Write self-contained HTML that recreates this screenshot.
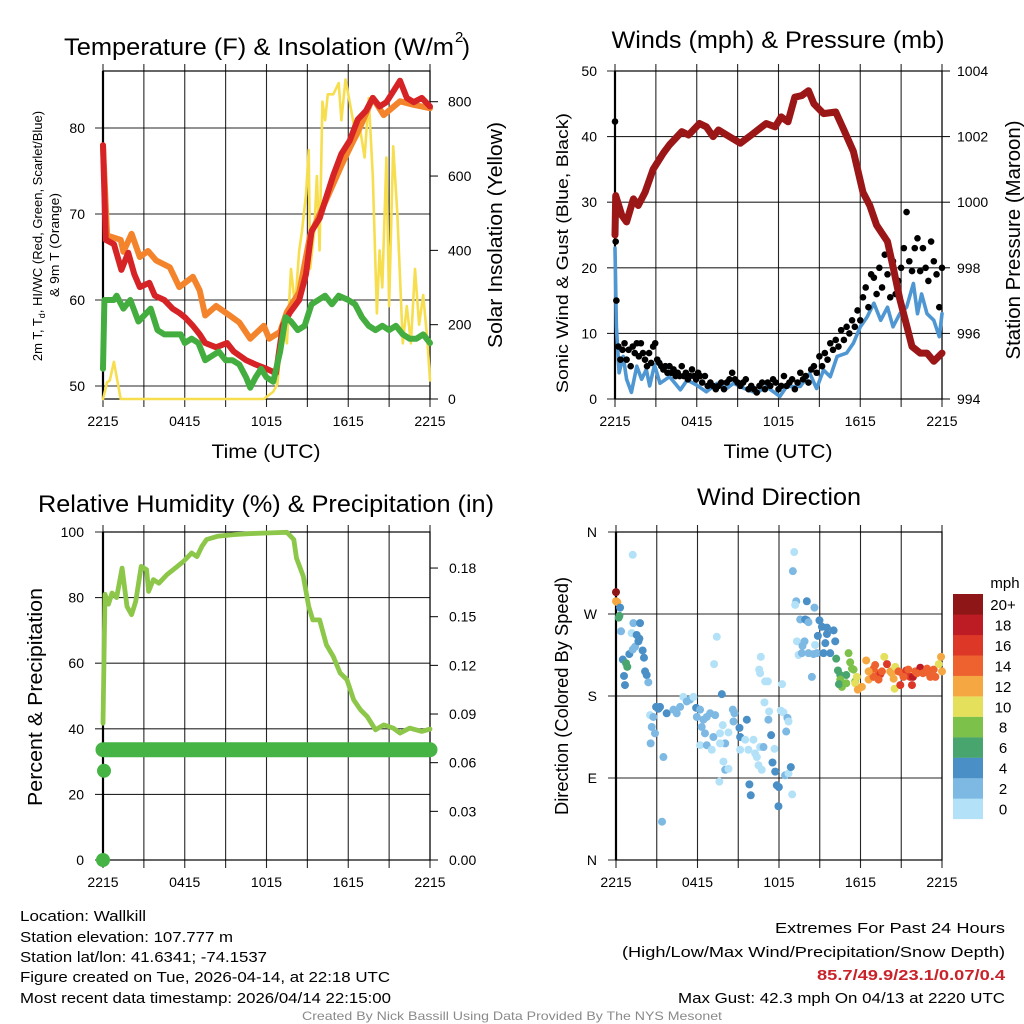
<!DOCTYPE html>
<html><head><meta charset="utf-8"><style>
html,body{margin:0;padding:0;background:#fff}
svg{display:block;font-family:"Liberation Sans",sans-serif}
</style></head><body>
<svg id="chart" width="1024" height="1024" viewBox="0 0 1024 1024"></svg>
<script>
// ===== Temperature panel data (hours since 2215 UTC) =====
const redTimes=[0,0.2,0.8,1.35,1.85,2.3,2.7,3.4,3.8,4.5,5.1,5.6,6.0,6.6,7.1,7.5,8.3,9.1,9.6,10.5,11.2,12,12.7,13.2,13.7,14.4,14.9,15.3,15.9,16.4,16.9,17.5,18.1,18.7,19.3,19.8,20.3,20.8,21.4,21.8,22.3,22.8,23.4,24];
const redValues=[78,67,66.5,63.5,65.5,63,61.5,62,60.5,60,59,58.5,58,57,56,55,54.5,55,54,53,52.5,52,51.5,57,58.5,60,63,68,69.5,72,74.5,77,78.5,81,82,83.5,82.5,83,84.5,85.5,83.5,83,83.5,82.5];
const orangeTimes=[0,0.3,1.3,1.5,2.1,2.7,3.3,3.9,4.9,5.6,6.6,7.1,7.5,8.3,9.3,10,10.8,11.8,12.2,13,13.5,14.4,15.2,16.4,17.6,18.9,19.8,20.6,21.8,22.8,24];
const orangeValues=[78,67.5,67,65.6,67.7,65,65.7,64.6,63.8,61.5,62.7,61.1,58.2,59.3,58.2,57.4,55.5,57,55.5,56.3,58.6,60.9,67.5,71.7,76,80.2,83.5,81.5,83.1,82.7,82.3];
const greenTimes=[0,0.1,0.8,1.0,1.5,2.0,2.6,3.2,3.5,4.0,4.5,5.0,5.7,6.0,6.5,7.0,7.5,8.0,8.5,9.0,9.5,10.0,10.5,10.8,11.2,11.6,12.0,12.5,13.0,13.4,13.8,14.3,14.8,15.3,15.8,16.3,16.8,17.3,18.0,18.5,19.0,19.5,20.0,20.5,21.0,21.5,22.0,22.5,23.0,23.5,24];
const greenValues=[52,60,60,60.5,59,60,57.5,58.5,59,56.5,56,56,56,55,55.5,55,53,53.5,54,53,53,52.5,51,49.8,51,52,51,50.5,54,58,57.5,56.5,57,59.5,60,60.5,59.5,60.5,60,59.5,58,57,56.5,57,56.5,57,56,55.5,55.5,56,55];
const solarTimes=[0,0.3,0.5,0.8,1.0,1.3,11.8,12.5,12.8,13.2,13.5,13.8,14.1,14.4,14.6,14.9,15.1,15.2,15.5,15.7,15.9,16.1,16.3,16.5,16.9,17.3,17.5,17.8,18.2,18.6,18.9,19.2,19.5,19.8,20.1,20.3,20.5,20.8,21.0,21.3,21.6,22.0,22.3,22.6,22.9,23.2,23.5,23.8,24];
const solarValues=[0,45,50,100,60,0,0,20,40,200,150,350,250,400,450,550,670,350,450,600,400,800,750,820,820,850,750,860,780,700,720,650,810,600,230,400,300,650,250,680,500,150,250,150,350,200,280,160,50];
const tempTickValues=[50,60,70,80];
const solarTickValues=[0,200,400,600,800];
const timeTickLabels=["2215","0415","1015","1615","2215"];
const timeTickHours=[0,6,12,18,24];

// ===== Winds panel data =====
const pressTimes=[0,0.05,0.5,0.85,1.35,1.7,2.2,2.8,3.55,4,4.9,5.4,6.2,6.7,7.2,7.6,8.2,9.2,10,11.1,11.75,12.2,12.7,13.2,13.7,14.2,14.6,15.3,16.2,16.8,17.5,18.2,18.7,19.2,20,20.45,20.9,21.4,21.8,22.4,22.9,23.4,24];
const pressValues=[999,1000.2,999.6,999.4,1000.1,999.9,1000.3,1001,1001.5,1001.75,1002.15,1002.05,1002.4,1002.3,1002,1002.2,1002.05,1001.8,1002.05,1002.4,1002.3,1002.6,1002.45,1003.2,1003.25,1003.4,1003,1002.7,1002.75,1002.2,1001.55,1000.3,999.9,999.3,998.8,997.95,997.05,996.25,995.6,995.4,995.4,995.15,995.4];
const windTimes=[0,0.1,0.3,0.6,0.85,1.2,1.6,1.95,2.3,2.55,2.9,3.3,4,4.8,5.3,6,6.7,7.5,8.2,8.7,9.5,10.4,11.1,12.1,12.6,13.6,14.3,14.8,15.3,15.8,16.3,17,17.5,18,18.5,19,19.5,20,20.4,20.9,21.4,21.9,22.2,22.5,22.9,23.4,23.8,24];
const windValues=[23,11,4,6.5,3,1,5,3,4.5,2,5.2,2.4,3.4,1.4,2.9,2.1,1.1,2.4,1.6,2.4,1.6,0.9,1.9,0.4,1.9,1.9,3.9,1.6,4.4,3.4,6.5,7,8.5,11,12.5,14.6,12,14,11,13,14,17.6,13,16,13,12,9.5,13];
const gustTimes=[0,0.05,0.1,0.25,0.4,0.55,0.7,0.85,1.0,1.15,1.3,1.45,1.6,1.75,1.9,2.05,2.2,2.35,2.5,2.65,2.8,2.95,3.1,3.25,3.4,3.55,3.7,3.85,4.0,4.15,4.3,4.45,4.6,4.75,4.9,5.05,5.2,5.35,5.5,5.65,5.8,5.95,6.1,6.25,6.4,6.6,6.8,7.0,7.2,7.4,7.6,7.8,8.0,8.2,8.4,8.6,8.8,9.0,9.2,9.4,9.6,9.8,10.0,10.2,10.4,10.6,10.8,11.0,11.2,11.4,11.6,11.8,12.0,12.2,12.4,12.6,12.8,13.0,13.2,13.4,13.6,13.8,14.0,14.2,14.4,14.6,14.8,15.0,15.2,15.4,15.6,15.8,16.0,16.2,16.4,16.6,16.8,17.0,17.2,17.4,17.6,17.8,18.0,18.2,18.4,18.6,18.8,19.0,19.2,19.4,19.6,19.8,20.0,20.2,20.4,20.6,20.8,21.0,21.2,21.4,21.6,21.8,22.0,22.2,22.4,22.6,22.8,23.0,23.2,23.4,23.6,23.8,24];
const gustValues=[42.3,24,15,8,6,7.5,8.5,6,7.5,5,8,7,8.5,6.5,8.5,7,6,5,7,5.5,8,8.5,6,5.5,5,4.5,5,4,5,4,4.5,3.5,4,3.5,5,3.5,4,3,3.5,4.5,3.5,3,4,3.5,2.5,3.5,2,2.5,2,1.5,2,2.5,1.5,2.5,3,4,3,2.5,2,2.5,3,1.5,2,1.5,1,2,2.5,1.5,2.5,2,3,2.5,1.5,2,3.5,2,2.5,3,1.5,2.5,4,3,3.5,2.5,4.5,5,4,6.5,5,7,6,8.5,7.5,9,8,10.5,9,11,10,12,11,13.5,12,15.5,17,14,19,18.5,16,20,17,22,19,15.5,21,16,18,20,23,28.5,21,19.5,23,24.5,19.5,23,20,18,24,21,19,14,20];
const windTickValues=[0,10,20,30,40,50];
const pressTickValues=[994,996,998,1000,1002,1004];

// ===== Humidity / precip data =====
const rhTimes=[0,0.15,0.4,0.66,1.0,1.4,1.76,2.1,2.4,2.8,3.2,3.35,3.7,4.1,4.7,5.3,5.9,6.5,6.9,7.26,7.6,8.4,9.6,10.8,12,13.5,14,14.2,14.7,15.1,15.4,15.9,16.4,16.9,17.4,17.9,18.4,18.9,19.4,20,20.6,21.3,21.8,22.5,23.4,24];
const rhValues=[41.7,81,78,81.4,80,89,77.3,74.8,78.8,89.5,88.5,81.9,85.5,84.4,87,89,91,93.6,92.5,95.6,97.7,98.7,99.2,99.5,99.7,99.9,97.7,92,86.5,77.3,73.2,73.2,65.6,62,57,55,48.8,45.8,43.7,39.7,41.2,40.2,38.7,40.2,39.2,39.9];
const precipTimes=[0,0,0,1,2,3,4,5,6,7,8,9,10,11,12,13,14,15,16,17,18,19,20,21,22,23,24];
const precipValues=[0,0.055,0.068,0.068,0.068,0.068,0.068,0.068,0.068,0.068,0.068,0.068,0.068,0.068,0.068,0.068,0.068,0.068,0.068,0.068,0.068,0.068,0.068,0.068,0.068,0.068,0.068];
const rhTickValues=[0,20,40,60,80,100];
const precipTickLabels=["0.00","0.03","0.06","0.09","0.12","0.15","0.18"];
const precipTickValues=[0,0.03,0.06,0.09,0.12,0.15,0.18];

// ===== Wind direction data =====
const dirTimes=[0,0,0.1,0.3,0.2,0.25,0.37,0.5,0.83,0.74,
0.59,0.66,0.98,1.23,1.15,1.28,1.77,1.52,1.72,1.4,
1.65,1.96,2.06,2.14,2.26,2.38,1.23,2.95,3.12,3.24,
3.73,2.51,2.75,2.63,2.87,2.55,3.49,3.39,4.23,4.47,
4.72,4.96,5.21,5.45,5.7,5.9,6.19,5.95,6.43,6.68,
6.93,7.3,6.31,6.55,7.17,6.19,6.68,7.05,7.42,7.22,
7.79,7.86,7.66,8.28,8.04,7.66,7.91,8.04,8.28,7.61,
8.6,8.72,8.65,9.09,9.14,9.63,9.51,10.12,9.75,9.14,
10.24,10.37,10.61,10.86,10.49,10.73,9.82,9.92,10.66,10.54,
10.61,10.98,11.18,10.93,11.27,11.22,11.42,11.67,11.52,11.72,
11.84,11.96,11.99,12.23,12.13,12.33,12.62,12.7,12.53,12.45,
12.7,12.87,12.97,13.12,13.02,13.27,13.19,14.05,14.61,13.56,
13.93,14.05,14.17,13.32,13.73,13.88,13.44,13.68,14.17,14.42,
14.54,14.79,14.98,15.16,15.53,16.02,14.86,15.41,15.53,16.14,
15.77,15.28,14.66,16.21,17.12,17.24,16.34,16.51,16.95,17.37,
17.49,17.61,16.51,16.63,16.41,16.95,17.73,17.61,17.8,18.1,
18.42,18.6,18.74,18.96,19.08,19.33,19.46,19.33,19.58,19.75,
19.95,20.19,20.31,20.44,20.56,20.51,20.8,20.93,21.05,21.37,
21.52,21.66,21.79,21.86,22.03,22.4,22.6,22.9,23.02,23.14,
23.39,23.51,23.76,23.93,24.0,22.16,21.17,18.96,18.6];
const dirDegrees=[294,284,283,277,266,268,251,220,212,216,
202,192,226,231,249,260,260,247,243,234,
240,230,222,207,203,195,335,168,166,168,
161,159,157,146,139,128,113,42,165,161,
168,179,174,176,179,167,165,157,154,157,
161,159,146,139,135,126,126,121,245,215,
182,148,139,140,128,128,108,99,100,86,
165,161,152,145,135,154,132,132,121,121,
117,113,124,124,104,99,83,71,223,209,
205,196,196,173,163,154,137,122,107,97,
82,59,80,193,164,162,156,152,141,93,
95,102,72,338,317,284,280,284,277,264,
264,263,261,240,235,240,225,227,227,201,
226,227,263,256,255,252,246,238,248,240,
227,227,236,221,227,217,208,203,203,210,
209,196,198,190,193,194,201,194,187,190,
219,198,206,210,214,205,204,198,207,223,
215,207,205,199,212,188,207,192,205,208,
209,201,192,201,207,211,205,210,205,201,
209,201,215,223,207,205,201,201,207];
const dirSpeeds=[20,12,12,4,6,6,2,4,6,6,
4,4,4,2,1,2,4,4,4,2,
4,4,4,4,4,2,0,4,4,4,
4,1,2,2,2,2,2,2,2,2,
2,1,2,2,1,4,2,2,2,2,
2,2,2,2,2,1,2,1,1,1,
4,1,1,1,2,1,1,2,1,1,
2,2,2,4,4,4,1,1,1,1,
1,1,1,2,1,1,4,4,1,1,
1,1,1,1,1,2,4,1,4,4,
4,4,4,1,1,1,2,1,2,2,
1,4,1,1,2,2,1,4,2,2,
4,4,2,1,2,2,1,2,2,2,
2,2,4,4,4,4,4,4,4,4,
4,4,1,6,8,8,6,6,6,8,
8,8,8,8,6,8,10,10,12,12,
12,12,12,14,14,14,16,14,14,10,
16,12,12,12,10,10,14,16,14,16,
14,16,16,18,14,18,14,14,14,14,
14,14,10,12,12,14,14,14,12];
const dirTickLabels=["N","E","S","W","N"];
const dirTickValues=[0,90,180,270,360];
const speedBinLabels=["0","2","4","6","8","10","12","14","16","18","20+"];
const speedBinColors=["#b3e2f8","#7db9e3","#4a8fc6","#48a56e","#7bc14a","#e5e05c","#f5a742","#ee6230","#dc3727","#bd1c24","#8e1616"];

// ===== helpers =====
const NS="http://www.w3.org/2000/svg";
const svg=document.getElementById('chart');
function make(tag,parent){const e=document.createElementNS(NS,tag);(parent||svg).appendChild(e);return e;}
function setA(e,o){for(const k in o)e.setAttribute(k,o[k]);return e;}
function text(str,x,y,size,anchor,parent,extra){
  const t=make('text',parent);setA(t,{x:x,y:y,'font-size':size,'text-anchor':anchor||'start',fill:'#000'});
  if(extra)setA(t,extra);t.textContent=str;return t;}

function panel(P,name){
  const g=make('g');
  
  
  P.g=g;
  P.x=t=>P.x0+t/24*(P.x1-P.x0);
  return g;
}
function frame(P,leftVals,leftLabels,yL,rightVals,rightLabels,yR,leftLabelX,rightLabelX,xLabels){
  const g=P.g;
  for(let h=0;h<=24;h+=3){
    const l=make('line',g);setA(l,{x1:P.x(h),x2:P.x(h),y1:P.y0-7,y2:P.y1+8,stroke:'#000','stroke-width':1.1,'stroke-opacity':0.85});
    
    
  }
  leftVals.forEach((v,i)=>{
    const l=make('line',g);setA(l,{x1:P.x0-8,x2:P.x1,y1:yL(v),y2:yL(v),stroke:'#000','stroke-width':1.1,'stroke-opacity':0.85});
    
    
    const t=text(leftLabels[i],leftLabelX,yL(v)+5,14,'end',g);
    
    
  });
  if(rightVals){rightVals.forEach((v,i)=>{
    const l=make('line',g);setA(l,{x1:P.x1,x2:P.x1+8,y1:yR(v),y2:yR(v),stroke:'#000','stroke-width':1});
    
    
    const t=text(rightLabels[i],rightLabelX,yR(v)+5,14,'start',g);
    
    
  });}
  const box=make('rect',g);setA(box,{x:P.x0,y:P.y0,width:P.x1-P.x0,height:P.y1-P.y0,fill:'none',stroke:'#000','stroke-width':1.2});
  
  
  const ax=make('line',g);setA(ax,{x1:P.x0,x2:P.x0,y1:P.y0,y2:P.y1,stroke:'#000','stroke-width':2.2});
  
  
  timeTickHours.forEach((h,i)=>{
    const t=text(xLabels[i],P.x(h),P.y1+27,14,'middle',g);
    
    
  });
}
function line(P,times,vals,y,color,w,name){
  let d='';times.forEach((t,i)=>{d+=(i?'L':'M')+P.x(t).toFixed(1)+','+y(vals[i]).toFixed(1);});
  const p=make('path',P.g);setA(p,{d:d,fill:'none',stroke:color,'stroke-width':w,'stroke-linejoin':'round','stroke-linecap':'round'});
  
  
  return p;
}
function rot(str,x,y,size,len,parent){
  const t=text(str,x,y,size,'middle',parent,{transform:'rotate(-90 '+x+' '+y+')',textLength:len,lengthAdjust:'spacingAndGlyphs'});
  return t;
}

// ===== Panel 1 =====
const P1={x0:103,x1:430,y0:71,y1:399};
panel(P1,'temperature-panel');
const yT=v=>386-(v-50)*8.6, yS=v=>399-v*0.3716;
frame(P1,tempTickValues,tempTickValues.map(String),yT,solarTickValues,solarTickValues.map(String),yS,85,448,timeTickLabels);
line(P1,solarTimes,solarValues,yS,'#f6de4f',2.6,'solar-insolation-line');
line(P1,orangeTimes,orangeValues,yT,'#f4842c',6,'temp-9m-line');
line(P1,redTimes,redValues,yT,'#d62325',6,'temp-2m-line');
line(P1,greenTimes,greenValues,yT,'#43ad3f',6,'dewpoint-line');
let t;
t=text('Temperature (F) & Insolation (W/m',64,55,24,'start',P1.g,{textLength:390,lengthAdjust:'spacingAndGlyphs'});


t=text('2',455,42,15,'start',P1.g);


t=text(')',462,55,24,'start',P1.g);


t=make('text',P1.g);
setA(t,{x:42,y:236,'font-size':13,'text-anchor':'middle',transform:'rotate(-90 42 236)'});
t.innerHTML='2m T, T<tspan font-size="9" dy="3">d</tspan><tspan dy="-3">, HI/WC (Red, Green, Scarlet/Blue)</tspan>';


t=rot('& 9m T (Orange)',59,245,13,104,P1.g);


t=rot('Solar Insolation (Yellow)',502,235,20,226,P1.g);


t=text('Time (UTC)',266,458,19,'middle',P1.g,{textLength:109,lengthAdjust:'spacingAndGlyphs'});



// ===== Panel 2 =====
const P2={x0:615,x1:942,y0:71,y1:399};
panel(P2,'winds-panel');
const yW=v=>399-v*6.56, yP=v=>399-(v-994)*32.8;
frame(P2,windTickValues,windTickValues.map(String),yW,pressTickValues,pressTickValues.map(String),yP,597,957,timeTickLabels);
line(P2,windTimes,windValues,yW,'#4f97d2',3.6,'sonic-wind-line');
gustTimes.forEach((tm,i)=>{
  const c=make('circle',P2.g);setA(c,{cx:P2.x(tm),cy:yW(gustValues[i]),r:3.3,fill:'#000'});
  
  
});
line(P2,pressTimes,pressValues,yP,'#9b1617',7,'station-pressure-line');
t=text('Winds (mph) & Pressure (mb)',778,48,24,'middle',P2.g,{textLength:333,lengthAdjust:'spacingAndGlyphs'});


t=rot('Sonic Wind & Gust (Blue, Black)',568,253,17,280,P2.g);


t=rot('Station Pressure (Maroon)',1020,240,20,239,P2.g);


t=text('Time (UTC)',778,458,19,'middle',P2.g,{textLength:109,lengthAdjust:'spacingAndGlyphs'});



// ===== Panel 3 =====
const P3={x0:103,x1:430,y0:532,y1:860};
panel(P3,'humidity-panel');
const yH=v=>860-v*3.28, yR=v=>860-v*1622;
frame(P3,rhTickValues,rhTickValues.map(String),yH,precipTickValues,precipTickLabels,yR,84,449,timeTickLabels);
line(P3,rhTimes,rhValues,yH,'#8dc74a',4.8,'relative-humidity-line');
line(P3,precipTimes.slice(2),precipValues.slice(2),yR,'#46b445',15,'precipitation-line');
precipTimes.forEach((tm,i)=>{
  const c=make('circle',P3.g);setA(c,{cx:P3.x(tm)+(i==1?1:0),cy:yR(precipValues[i]),r:7,fill:'#46b445'});
  
  
});
t=text('Relative Humidity (%) & Precipitation (in)',266,512,24,'middle',P3.g,{textLength:456,lengthAdjust:'spacingAndGlyphs'});


t=rot('Percent & Precipitation',42,697,20,218,P3.g);



// ===== Panel 4 =====
const P4={x0:616,x1:942,y0:532,y1:860};
panel(P4,'wind-direction-panel');
const yD=v=>860-v*328/360;
frame(P4,dirTickValues,dirTickLabels,yD,null,null,null,597,0,timeTickLabels);
dirTimes.forEach((tm,i)=>{
  const bin=Math.min(10,Math.floor(dirSpeeds[i]/2));
  const c=make('circle',P4.g);setA(c,{cx:P4.x(tm),cy:yD(dirDegrees[i]),r:4,fill:speedBinColors[bin]});
  
  
});
t=text('Wind Direction',779,505,24,'middle',P4.g,{textLength:164,lengthAdjust:'spacingAndGlyphs'});


t=rot('Direction (Colored By Speed)',568,696,18,238,P4.g);


const cb=make('g');


speedBinLabels.forEach((lab,i)=>{
  const y=798.5-i*20.45;
  const r=make('rect',cb);setA(r,{x:953,y:y,width:30,height:20.6,fill:speedBinColors[i]});
  
  
  const tt=text(lab,1003,y+16,15,'middle',cb);
  
  
});
t=text('mph',1005,588,15,'middle',cb);



// ===== Footer =====
const ft=make('g');


const leftLines=[["Location: Wallkill",126,921],["Station elevation: 107.777 m",213,942],["Station lat/lon: 41.6341; -74.1537",247,962],["Figure created on Tue, 2026-04-14, at 22:18 UTC",370,982],["Most recent data timestamp: 2026/04/14 22:15:00",371,1003]];
leftLines.forEach(a=>{
  const tt=text(a[0],20,a[2],15,'start',ft,{textLength:a[1],lengthAdjust:'spacingAndGlyphs'});
  
  
});
const rightLines=[["Extremes For Past 24 Hours",230,933,'#000','normal'],["(High/Low/Max Wind/Precipitation/Snow Depth)",383,957,'#000','normal'],["85.7/49.9/23.1/0.07/0.4",188,980,'#c8232a','bold'],["Max Gust: 42.3 mph On 04/13 at 2220 UTC",327,1003,'#000','normal']];
rightLines.forEach(a=>{
  const tt=text(a[0],1005,a[2],15,'end',ft,{textLength:a[1],lengthAdjust:'spacingAndGlyphs',fill:a[3],'font-weight':a[4]});
  
  
});
t=text('Created By Nick Bassill Using Data Provided By The NYS Mesonet',512,1020,12,'middle',ft,{textLength:420,lengthAdjust:'spacingAndGlyphs',fill:'#8a8a8a'});


</script>
</body></html>
